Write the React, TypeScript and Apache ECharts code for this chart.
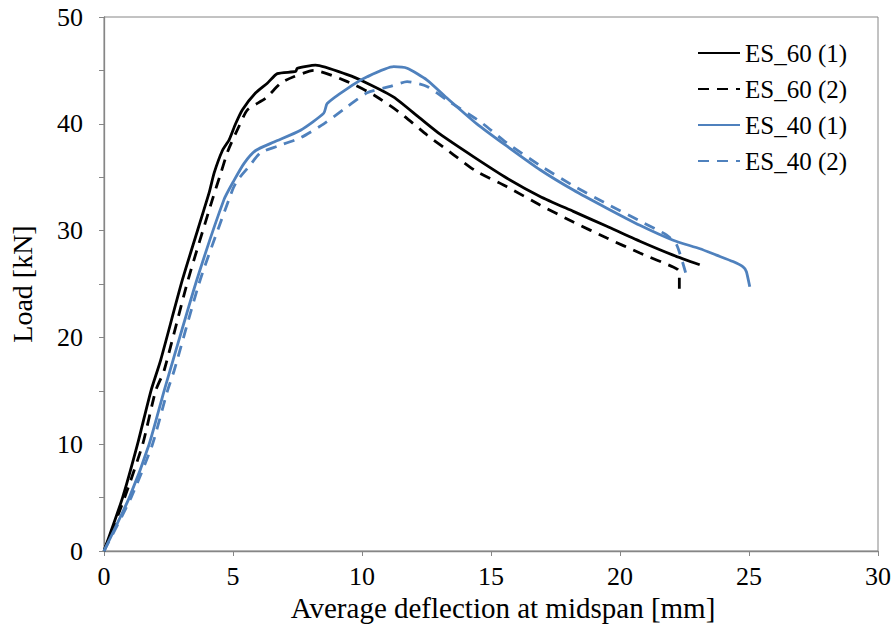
import React, { useEffect, useRef } from "react";
import * as echarts from "echarts";

const seriesNames = ["ES_60 (1)", "ES_60 (2)", "ES_40 (1)", "ES_40 (2)"];

const es60_1: number[][] = [
  [0, 0], [0.72, 5], [1.3, 10], [1.82, 15], [2.2, 17.9], [3.04, 25.4], [4.07, 33.5],
  [4.27, 35.4], [4.59, 37.5], [4.85, 38.5], [5.1, 40.0], [5.36, 41.3], [5.88, 42.9],
  [6.33, 43.8], [6.72, 44.7], [7.43, 44.9], [7.49, 45.2], [8.2, 45.5], [9.43, 44.6],
  [10.2, 43.8], [11.23, 42.5], [12.26, 40.5], [13.04, 39.0], [14.33, 36.9], [15.62, 34.9],
  [16.9, 33.2], [18.19, 31.8], [19.49, 30.4], [20.77, 29.0], [22.06, 27.7], [23.09, 26.8],
];

const es60_2: number[][] = [
  [0, 0], [0.8, 5], [1.5, 10], [2.0, 15], [2.33, 16.9], [3.26, 25.4], [4.2, 32.9],
  [4.53, 35.4], [4.81, 37.5], [5.22, 39.7], [5.56, 41.3], [6.27, 42.4], [6.85, 43.8],
  [7.35, 44.4], [8.14, 45.0], [9.43, 43.95], [10.46, 42.7], [11.49, 41.0], [12.52, 38.95],
  [13.55, 37.1], [14.4, 35.6], [15.62, 34.1], [16.9, 32.4], [18.19, 30.8], [19.49, 29.3],
  [20.77, 27.9], [22.06, 26.6], [22.26, 26.3], [22.3, 25.5], [22.3, 24.5],
];

const es40_1: number[][] = [
  [0, 0], [0.98, 5], [1.75, 10], [2.33, 15], [2.68, 17.9], [3.6, 25.4], [4.65, 32.9],
  [5.04, 34.7], [5.43, 36.3], [5.88, 37.5], [6.59, 38.3], [7.62, 39.4], [8.52, 41.0],
  [8.65, 41.9], [9.43, 43.3], [10.2, 44.4], [11.23, 45.35], [11.75, 45.2], [12.52, 44.1],
  [13.3, 42.4], [14.45, 40.0], [15.62, 37.9], [16.9, 35.7], [18.19, 33.8], [19.49, 32.1],
  [20.77, 30.5], [22.06, 29.1], [23.1, 28.3], [23.74, 27.7], [24.38, 27.1], [24.77, 26.6],
  [24.9, 26.15], [25.03, 24.75],
];

const es40_2: number[][] = [
  [0, 0], [1.05, 5], [1.88, 10], [2.46, 15], [2.72, 16.9], [3.73, 25.4], [4.98, 33.8],
  [5.17, 34.7], [5.62, 36.0], [6.07, 37.3], [6.72, 37.9], [7.62, 38.7], [8.52, 40.0],
  [9.43, 41.6], [10.2, 42.9], [11.1, 43.5], [11.75, 43.95], [12.52, 43.5], [13.3, 42.2],
  [14.58, 40.2], [15.62, 38.2], [16.9, 36.1], [18.19, 34.2], [19.49, 32.5], [20.77, 30.9],
  [21.8, 29.6], [22.2, 28.65], [22.55, 26.0],
];

const BLACK = "#000000";
const BLUE = "#4F81BD";
const AXIS = "#868686";
const FONT = "Liberation Serif, Times New Roman, serif";

export default function App() {
  const ref = useRef<HTMLDivElement>(null);
  useEffect(() => {
    if (!ref.current) return;
    const chart = echarts.init(ref.current, undefined, { renderer: "svg" });
    const mk = (name: string, data: number[][], color: string, dashed: boolean) => ({
      name,
      type: "line",
      data,
      symbol: "none",
      showSymbol: false,
      smooth: 0.2,
      color,
      lineStyle: { color, width: 2.8, type: dashed ? [11, 8] : "solid" },
    });
    chart.setOption({
      animation: false,
      textStyle: { fontFamily: FONT },
      grid: { left: 103, right: 18, top: 17, bottom: 84, show: true, borderColor: AXIS, borderWidth: 1 },
      legend: {
        orient: "vertical",
        left: 692,
        top: 35,
        itemWidth: 42,
        itemHeight: 14,
        itemGap: 10,
        data: seriesNames,
        itemStyle: { opacity: 0, borderWidth: 0 },
        textStyle: { fontFamily: FONT, fontSize: 25, color: "#000", lineHeight: 26 },
      },
      xAxis: {
        type: "value",
        min: 0,
        max: 30,
        interval: 5,
        name: "Average deflection at midspan [mm]",
        nameLocation: "middle",
        nameGap: 42,
        nameTextStyle: { fontFamily: FONT, fontSize: 29, color: "#000", padding: [0, 0, 0, 24] },
        axisLine: { show: true, lineStyle: { color: AXIS, width: 1.3 } },
        axisTick: { show: true, length: 5, lineStyle: { color: AXIS } },
        splitLine: { show: false },
        axisLabel: { fontFamily: FONT, fontSize: 26, color: "#000", margin: 12 },
      },
      yAxis: {
        type: "value",
        min: 0,
        max: 50,
        interval: 5,
        name: "Load [kN]",
        nameLocation: "middle",
        nameGap: 68,
        nameTextStyle: { fontFamily: FONT, fontSize: 28, color: "#000" },
        axisLine: { show: true, lineStyle: { color: AXIS, width: 1.3 } },
        axisTick: { show: true, length: 5, lineStyle: { color: AXIS } },
        splitLine: { show: false },
        axisLabel: {
          fontFamily: FONT,
          fontSize: 26,
          color: "#000",
          margin: 21,
          formatter: (v: number) => (v % 10 === 0 ? String(v) : ""),
        },
      },
      series: [
        mk(seriesNames[0], es60_1, BLACK, false),
        mk(seriesNames[1], es60_2, BLACK, true),
        mk(seriesNames[2], es40_1, BLUE, false),
        mk(seriesNames[3], es40_2, BLUE, true),
      ],
    });
    return () => chart.dispose();
  }, []);
  return <div ref={ref} style={{ position: "absolute", left: 0, top: 0, width: 896, height: 635 }} />;
}
